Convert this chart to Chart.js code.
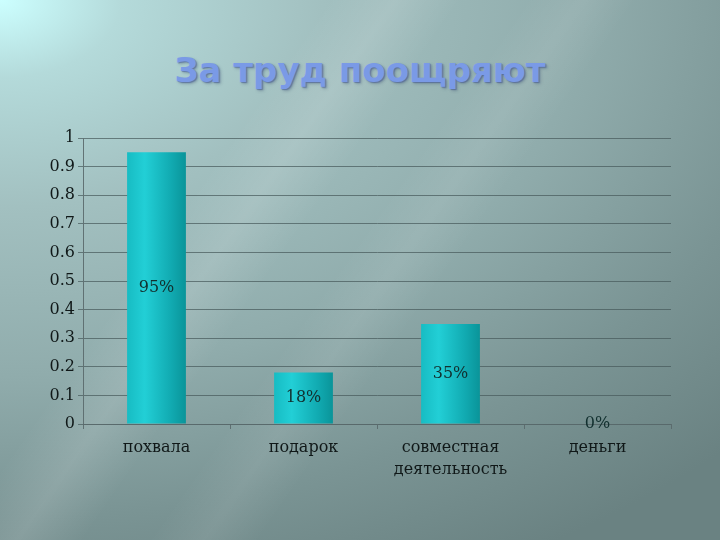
<!DOCTYPE html>
<html lang="ru">
<head>
<meta charset="utf-8">
<title>За труд поощряют</title>
<script src="https://cdn.jsdelivr.net/npm/chart.js@4.4.1/dist/chart.umd.min.js"></script>
<style>
  html, body { margin: 0; padding: 0; }
  body {
    width: 720px; height: 540px; overflow: hidden; position: relative;
    background:
      linear-gradient(125deg, rgba(255,255,255,0) 30%, rgba(255,255,255,0.12) 36%, rgba(255,255,255,0) 42%),
      linear-gradient(125deg, rgba(255,255,255,0) 48%, rgba(255,255,255,0.08) 53%, rgba(255,255,255,0) 58%),
      radial-gradient(ellipse 140% 120% at 0 0, #ccffff 0%, #b4dada 12%, #a2c0c0 32%, #90acac 58%, #7a9494 80%, #6a8282 100%);
  }
  #title {
    position: absolute; left: 0; top: 50px; width: 720px; text-align: center;
    font-family: "DejaVu Sans", sans-serif; font-weight: bold; font-size: 34px;
    color: #7a9ae6;
    text-shadow: 1px 1px 1px rgba(70, 90, 150, 0.6), 2px 2px 3px rgba(60, 80, 110, 0.35);
  }
  #wrap { position: absolute; left: 0; top: 0; width: 720px; height: 540px; }
</style>
</head>
<body>
<div id="title">За труд поощряют</div>
<div id="wrap"><canvas id="chart"></canvas></div>
<script>
// categories and values (shares)
const CATEGORIES = ['похвала', 'подарок', ['совместная', 'деятельность'], 'деньги'];
const VALUES = [0.95, 0.18, 0.35, 0];
const VALUE_LABELS = ['95%', '18%', '35%', '0%'];

const SERIF = '"DejaVu Serif", "Liberation Serif", serif';

// horizontal gradient across each bar
function barGradient(ctx) {
  const chart = ctx.chart;
  const xs = chart.scales && chart.scales.x;
  if (!xs || ctx.dataIndex === undefined || !chart.chartArea) return '#16b8bf';
  const center = xs.getPixelForValue(ctx.dataIndex);
  const half = xs.width / CATEGORIES.length * 0.4 / 2;
  const g = chart.ctx.createLinearGradient(center - half, 0, center + half, 0);
  g.addColorStop(0, '#17bcc3');
  g.addColorStop(0.3, '#22cfd6');
  g.addColorStop(0.75, '#11aab1');
  g.addColorStop(1, '#0a9499');
  return g;
}

// value labels in the middle of each bar
const midLabels = {
  id: 'midLabels',
  afterDatasetsDraw(chart) {
    const ctx = chart.ctx;
    const meta = chart.getDatasetMeta(0);
    ctx.save();
    ctx.font = '16px ' + SERIF;
    ctx.fillStyle = '#12302f';
    ctx.textAlign = 'center';
    ctx.textBaseline = 'middle';
    meta.data.forEach((bar, i) => {
      ctx.fillText(VALUE_LABELS[i], bar.x, (bar.y + bar.base) / 2);
    });
    ctx.restore();
  }
};

new Chart(document.getElementById('chart').getContext('2d'), {
  type: 'bar',
  data: {
    labels: CATEGORIES,
    datasets: [{
      label: 'За труд поощряют',
      data: VALUES,
      backgroundColor: barGradient,
      borderWidth: 0,
      barPercentage: 0.4,
      categoryPercentage: 1,
    }],
  },
  options: {
    responsive: true,
    maintainAspectRatio: false,
    animation: false,
    layout: { padding: { top: 138, right: 49, left: 0, bottom: 0 } },
    plugins: {
      legend: { display: false },
      title: { display: false },
      tooltip: { enabled: false },
    },
    scales: {
      y: {
        min: 0,
        max: 1,
        afterFit: s => { s.width = 83; },
        ticks: {
          stepSize: 0.1,
          padding: 3,
          color: '#101818',
          font: { family: SERIF, size: 16 },
          callback: v => String(Math.round(v * 10) / 10),
        },
        grid: { color: 'rgba(70, 88, 90, 0.7)', tickLength: 5 },
        border: { color: 'rgba(90, 105, 108, 0.9)' },
      },
      x: {
        afterFit: s => { s.height = 116; },
        ticks: {
          padding: 8,
          color: '#101818',
          font: { family: SERIF, size: 16, lineHeight: 1.35 },
          maxRotation: 0,
        },
        grid: { display: true, drawOnChartArea: false, offset: true, tickLength: 5, color: 'rgba(90, 105, 108, 0.9)' },
        border: { color: 'rgba(90, 105, 108, 0.9)' },
      },
    },
  },
  plugins: [midLabels],
});
</script>
</body>
</html>
